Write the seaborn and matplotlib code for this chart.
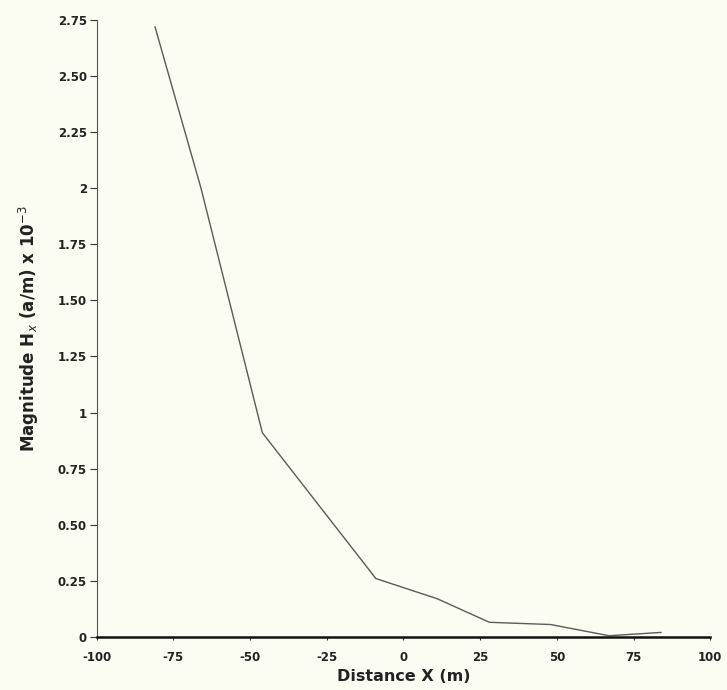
import pandas as pd
import seaborn as sns
import matplotlib.pyplot as plt

# values
distance = [-81, -66, -46, -9, 11, 28, 48, 67, 84]
magnitude = [2.72, 2.0, 0.91, 0.26, 0.17, 0.065, 0.055, 0.005, 0.02]

x_ticks = [-100, -75, -50, -25, 0, 25, 50, 75, 100]
y_ticks = [0, 0.25, 0.5, 0.75, 1, 1.25, 1.5, 1.75, 2, 2.25, 2.5, 2.75]
y_labels = ["0", "0.25", "0.50", "0.75", "1", "1.25", "1.50", "1.75", "2", "2.25", "2.50", "2.75"]

df = pd.DataFrame({"Distance": distance, "Magnitude": magnitude})

sns.set_style("white")
plt.rcParams["font.family"] = ["DejaVu Sans"]

bg = "#fbfcf2"
fig = plt.figure(figsize=(7.27, 6.90), dpi=100, facecolor=bg)
ax = fig.add_axes([0.133, 0.077, 0.844, 0.894])
ax.set_facecolor(bg)

sns.lineplot(data=df, x="Distance", y="Magnitude", color="#5a5a5a", linewidth=1.0, ax=ax)

ax.set_xlim(-100, 100)
ax.set_ylim(0, 2.75)
ax.set_xticks(x_ticks)
ax.set_xticklabels([str(t) for t in x_ticks], fontsize=8.5, fontweight="bold", color="#222222")
ax.set_yticks(y_ticks)
ax.set_yticklabels(y_labels, fontsize=8.5, fontweight="bold", color="#222222")
ax.tick_params(axis="y", direction="out", length=5, width=0.8, color="#333333", pad=2, left=True)
ax.tick_params(axis="x", direction="out", length=2, width=0.8, color="#333333", pad=8, bottom=True)

for s in ["top", "right"]:
    ax.spines[s].set_visible(False)
ax.spines["left"].set_color("#555555")
ax.spines["left"].set_linewidth(0.8)
ax.spines["bottom"].set_color("#111111")
ax.spines["bottom"].set_linewidth(1.8)

ax.set_xlabel("Distance X (m)", fontsize=11.5, fontweight="bold", color="#222222", labelpad=4)
ax.set_ylabel(r"Magnitude H$_x$ (a/m) x 10$^{-3}$", fontsize=12, fontweight="bold",
              color="#222222", labelpad=12)

fig.savefig("out.png", dpi=100, facecolor=bg)
